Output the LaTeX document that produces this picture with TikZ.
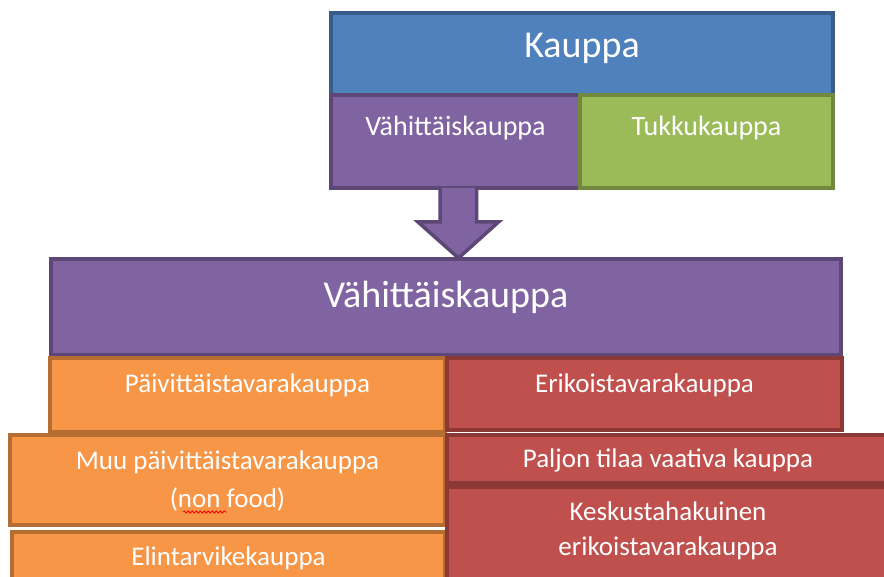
\documentclass[tikz,border=0pt]{standalone}
\usepackage{fontspec}
\setmainfont{Carlito}
\usepackage{tikz}
\usetikzlibrary{positioning,decorations.pathmorphing}

\definecolor{kblue}{HTML}{4F81BD}
\definecolor{kblueD}{HTML}{385D8A}
\definecolor{kpurple}{HTML}{8064A2}
\definecolor{kpurpleD}{HTML}{5C4776}
\definecolor{kgreen}{HTML}{9BBB59}
\definecolor{kgreenD}{HTML}{71893F}
\definecolor{korange}{HTML}{F79646}
\definecolor{korangeD}{HTML}{B66D31}
\definecolor{kred}{HTML}{C0504D}
\definecolor{kredD}{HTML}{8C3836}

\tikzset{
  box/.style={rectangle, inner sep=0pt, line width=3.5pt},
  bluebox/.style={box, fill=kblue, draw=kblueD},
  purplebox/.style={box, fill=kpurple, draw=kpurpleD},
  greenbox/.style={box, fill=kgreen, draw=kgreenD},
  orangebox/.style={box, fill=korange, draw=korangeD},
  redbox/.style={box, fill=kred, draw=kredD},
  bigtxt/.style={text=white, font=\fontsize{38}{46}\selectfont},
  midtxt/.style={text=white, font=\fontsize{28}{34}\selectfont},
  smalltxt/.style={text=white, align=center, font=\fontsize{27}{38}\selectfont}
}

\begin{document}
\begin{tikzpicture}[x=1pt,y=-1pt]
\useasboundingbox (0,0) rectangle (884,577);
\clip (0,0) rectangle (884,577);

% top part
\node[bluebox, minimum width=502, minimum height=82] (kauppa) at (582,54) {};
\node[purplebox, minimum width=249, minimum height=93] (vahTop) at (455.5,141.5) {};
\node[greenbox, minimum width=253, minimum height=93] (tukku) at (706.5,141.5) {};
\node[bigtxt] (kauppaTxt) at (582,48) {Kauppa};
\node[midtxt] (vahTopTxt) at (455.5,128) {Vähittäiskauppa};
\node[midtxt] (tukkuTxt) at (706.5,128) {Tukkukauppa};

% arrow
\coordinate (arrTop) at (458.5,188);
\coordinate (arrTip) at (458.5,258);
\filldraw[fill=kpurple, draw=kpurpleD, line width=3.5pt, line join=miter]
  (arrTop) ++(-18.5,0) -- ++(0,34) -- ++(-22,0) -- (arrTip)
  -- ++(40,-36) -- ++(-22,0) -- ++(0,-34);

% big box
\node[purplebox, minimum width=790, minimum height=96] (vahBig) at (446,307) {};
\node[bigtxt] (vahBigTxt) at (446,297) {Vähittäiskauppa};

% left column
\node[orangebox, minimum width=395, minimum height=74] (paiv) at (247.5,395) {};
\node[orangebox, minimum width=435, minimum height=90] (muu) at (227.5,480) {};
\node[orangebox, minimum width=433, minimum height=68] (elin) at (228.5,566) {};
\node[smalltxt] (paivTxt) at (247.5,385) {Päivittäistavarakauppa};
\node[smalltxt] (muuTxt) at (227.5,481) {Muu päivittäistavarakauppa\\(non food)};
\node[smalltxt] (elinTxt) at (228.5,558) {Elintarvikekauppa};
\coordinate (sqA) at (183,512);
\coordinate (sqB) at (227,512);
\draw[red, line width=0.8pt, decorate, decoration={snake, amplitude=1pt, segment length=4pt}] (sqA) -- (sqB);

% right column
\node[redbox, minimum width=395, minimum height=72] (erik) at (644.5,394) {};
\node[redbox, minimum width=453, minimum height=48] (paljon) at (673.5,459) {};
\node[redbox, minimum width=453, minimum height=113] (kesk) at (673.5,543.5) {};
\node[smalltxt] (erikTxt) at (644.5,385) {Erikoistavarakauppa};
\node[smalltxt] (paljonTxt) at (668,460) {Paljon tilaa vaativa kauppa};
\node[smalltxt, font=\fontsize{27}{35}\selectfont] (keskTxt) at (668,531) {Keskustahakuinen\\erikoistavarakauppa};
\end{tikzpicture}
\end{document}
